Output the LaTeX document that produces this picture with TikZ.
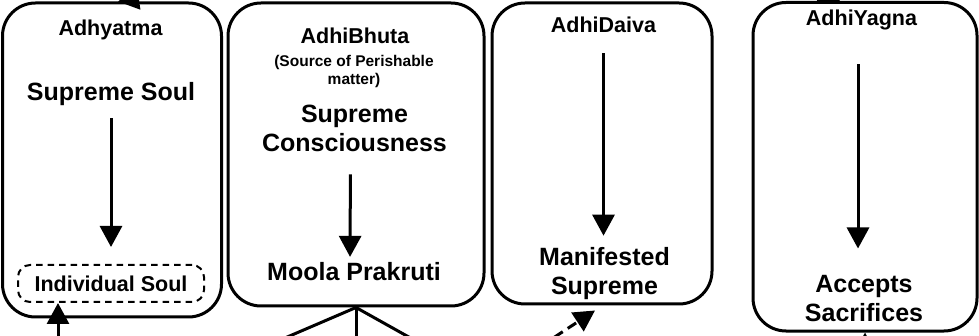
\documentclass[tikz,border=0pt]{standalone}
\usepackage{fontspec}
\setmainfont{Liberation Sans}
\usetikzlibrary{arrows.meta}

\begin{document}
\begin{tikzpicture}[x = 1pt, y = -1pt,
  box/.style = {draw, line width = 3pt, rounded corners = 33pt, inner sep = 0pt},
  titletext/.style = {font = \fontsize{21.5}{26}\selectfont\bfseries, inner sep = 0pt, anchor = base},
  maintext/.style = {font = \fontsize{25}{29}\selectfont\bfseries, inner sep = 0pt, anchor = base, align = center},
  subtext/.style = {font = \fontsize{15.5}{17.5}\selectfont\bfseries, inner sep = 0pt, anchor = base, align = center},
  arr/.style = {-{Triangle[width = 22pt, length = 21pt]}, line width = 3pt},
  fan/.style = {line width = 3pt}]

  \useasboundingbox(0, 0) rectangle (979, 336);
  \clip(0, 0) rectangle (979, 336);

  %%adhyatma
  \node[box, minimum width = 219pt, minimum height = 314pt](adhyatma) at (112, 160) {};
    \node[titletext](ttl1) at (110.5, 35.7) {Adhyatma};
    \node[maintext](ss) at (111, 101) {Supreme Soul};
    \node[draw, line width = 2pt, dash pattern = on 6.5pt off 5pt, rounded corners = 12pt,
          minimum width = 186pt, minimum height = 37pt, inner sep = 0pt,
          font = \fontsize{21.5}{26}\selectfont\bfseries](is) at (111, 283.5) {Individual Soul};

      \draw[arr, shorten <= 11.7pt, shorten >= 17pt](ss) to (is);

  %%adhibhuta
  \node[box, minimum width = 256pt, minimum height = 303pt](adhibhuta) at (356, 154.5) {};
    \node[titletext](ttl2) at (355, 43.3) {AdhiBhuta};
    \node[subtext](src) at (354, 84.5) {(Source of Perishable\\matter)};
    \node[maintext](sc) at (354.5, 151.7) {Supreme\\Consciousness};
    \node[maintext](mp) at (354, 281) {Moola Prakruti};

      \draw[arr, shorten <= 22.3pt, shorten >= 5.8pt]([xshift = -4pt]sc.south) to ([xshift = -4pt]mp.north);

  %%adhidaiva
  \node[box, minimum width = 220pt, minimum height = 301pt](adhidaiva) at (602, 153.5) {};
    \node[titletext](ttl3) at (603.5, 32.3) {AdhiDaiva};
    \node[maintext](ms) at (604.5, 294.5) {Manifested\\Supreme};

      \draw[arr, shorten <= 20.7pt, shorten >= 11.5pt](ttl3) to (ttl3 |- ms.north);

  %%adhiyagna
  \node[box, minimum width = 224pt, minimum height = 328.5pt](adhiyagna) at (865, 166.75) {};
    \node[titletext](ttl4) at (861.5, 25.7) {AdhiYagna};
    \node[maintext](acc) at (864, 321.7) {Accepts\\Sacrifices};

      \draw[arr, shorten <= 33.8pt, shorten >= 26.8pt]([xshift = -3.5pt]ttl4.south) to ([xshift = -6pt]acc.north);

  %%links leaving the frame
  \coordinate(in1) at (217, -13);
  \coordinate(in4) at (780, -27);
  \coordinate(in5) at (58, 350);
  \coordinate(in6) at (541, 346);
  \coordinate(in7) at (865, 365);
  \coordinate(f1) at (257, 350);
  \coordinate(f2) at (356, 350);
  \coordinate(f3) at (432, 350);

    \draw[arr](in1) to ([xshift = 6pt]adhyatma.north);
    \draw[arr](in4) to ([xshift = -25pt]adhiyagna.north);
    \draw[arr](in5) to ([xshift = -53pt]is.south);
    \draw[arr, dash pattern = on 10pt off 6pt](in6) to ([xshift = -7pt, yshift = -5pt]adhidaiva.south);
    \draw[arr](in7) to (adhiyagna.south);

    \draw[fan](adhibhuta.south) to (f1);
    \draw[fan](adhibhuta.south) to (f2);
    \draw[fan](adhibhuta.south) to (f3);

\end{tikzpicture}
\end{document}
